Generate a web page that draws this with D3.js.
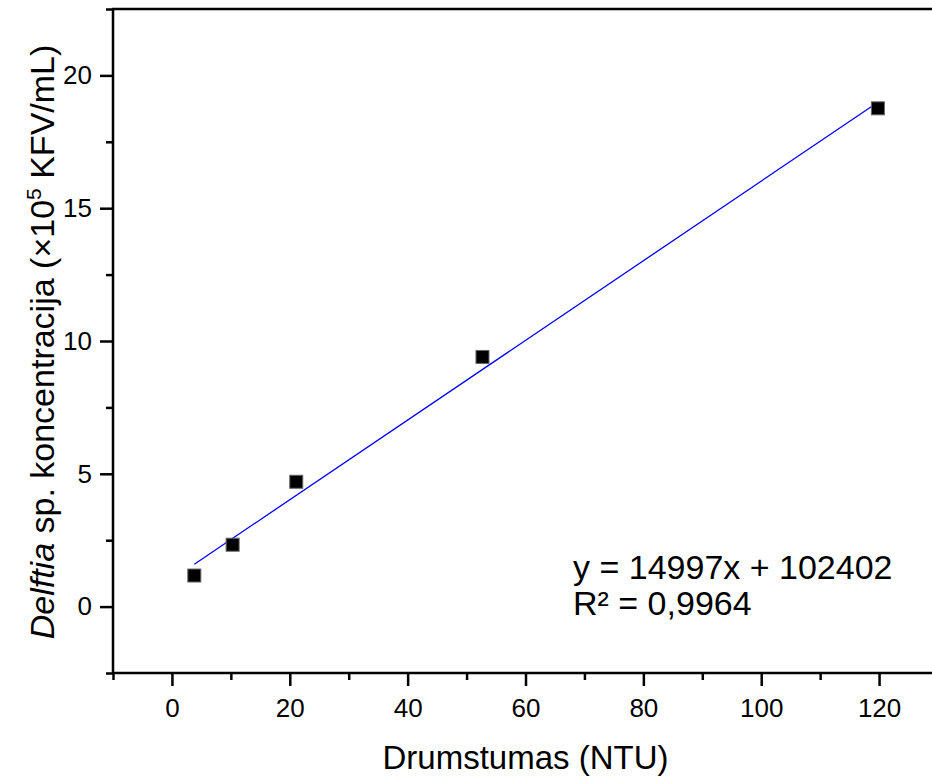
<!DOCTYPE html>
<html>
<head>
<meta charset="utf-8">
<script src="https://cdn.jsdelivr.net/npm/d3@7/dist/d3.min.js"></script>
<style>
  body { margin: 0; background: #fff; }
  svg { display: block; font-family: "Liberation Sans", Arial, sans-serif; }
</style>
</head>
<body>
<div id="chart"></div>
<script>
// Measured points: turbidity (NTU) vs Delftia concentration (x10^5 KFV/mL)
var ntu = [3.8, 10.3, 21.1, 52.7, 119.8];
var conc = [1.17, 2.33, 4.70, 9.40, 18.76];

// Linear fit as printed on the chart (in KFV/mL)
var fitSlope = 14997;
var fitIntercept = 102402;
var fitLabel = "y = 14997x + 102402";
var r2Label = "R\u00b2 = 0,9964";

var xMajor = [0, 20, 40, 60, 80, 100, 120];
var xMinor = [-10, 10, 30, 50, 70, 90, 110, 130];
var yMajor = [0, 5, 10, 15, 20];
var yMinor = [-2.5, 2.5, 7.5, 12.5, 17.5, 22.5];

var W = 932, H = 780;
// plot box (right edge runs off the canvas, as in the original crop)
var PL = 113, PR = 938, PT = 9, PB = 673;
var MAJOR = 13, MINOR = 7, AXIS_W = 2.5;
var FONT = "'Liberation Sans', Arial, sans-serif";

var svg = d3.select("#chart").append("svg")
	.attr("width", W)
	.attr("height", H);

var x = d3.scaleLinear().domain([-10, 130]).range([PL, PR]);
var y = d3.scaleLinear().domain([-2.5, 22.5]).range([PB, PT]);

// Fit line over the range of the data
var xs = d3.extent(ntu);
var fitY = function(v) { return (fitSlope * v + fitIntercept) / 1e5; };
svg.append("line")
	.attr("x1", x(xs[0])).attr("y1", y(fitY(xs[0])))
	.attr("x2", x(xs[1])).attr("y2", y(fitY(xs[1])))
	.attr("stroke", "#0000ff")
	.attr("stroke-width", 1.3);

// Square markers
var S = 13;
svg.selectAll("rect.pt")
	.data(d3.zip(ntu, conc))
	.enter()
	.append("rect")
	.attr("class", "pt")
	.attr("x", function(d) { return x(d[0]) - S / 2; })
	.attr("y", function(d) { return y(d[1]) - S / 2; })
	.attr("width", S)
	.attr("height", S)
	.attr("fill", "#000")
	.attr("stroke", "#666")
	.attr("stroke-width", 1);

// Axes
var styleAxis = function(g) {
	g.attr("font-size", 26).attr("font-family", FONT);
	g.selectAll("path.domain").remove();
	g.selectAll(".tick line").attr("stroke", "#000").attr("stroke-width", AXIS_W);
	g.selectAll(".tick text").attr("fill", "#000");
};

svg.append("g")
	.attr("transform", "translate(0," + PB + ")")
	.call(d3.axisBottom(x).tickValues(xMajor).tickSize(MAJOR).tickPadding(13).tickFormat(d3.format("d")))
	.call(styleAxis);
svg.append("g")
	.attr("transform", "translate(0," + PB + ")")
	.call(d3.axisBottom(x).tickValues(xMinor).tickSize(MINOR).tickFormat(""))
	.call(styleAxis);

svg.append("g")
	.attr("transform", "translate(" + PL + ",0)")
	.call(d3.axisLeft(y).tickValues(yMajor).tickSize(MAJOR).tickPadding(8).tickFormat(d3.format("d")))
	.call(styleAxis);
svg.append("g")
	.attr("transform", "translate(" + PL + ",0)")
	.call(d3.axisLeft(y).tickValues(yMinor).tickSize(MINOR).tickFormat(""))
	.call(styleAxis);

// Frame
svg.append("rect")
	.attr("x", PL).attr("y", PT)
	.attr("width", PR - PL).attr("height", PB - PT)
	.attr("fill", "none")
	.attr("stroke", "#000")
	.attr("stroke-width", AXIS_W);

// Axis titles
svg.append("text")
	.attr("x", (PL + PR) / 2)
	.attr("y", 769)
	.attr("text-anchor", "middle")
	.attr("font-size", 33)
	.text("Drumstumas (NTU)");

var yt = svg.append("text")
	.attr("transform", "translate(54,342) rotate(-90)")
	.attr("text-anchor", "middle")
	.attr("font-size", 34);
yt.append("tspan").attr("font-style", "italic").text("Delftia");
yt.append("tspan").text(" sp. koncentracija (\u00d710");
yt.append("tspan").attr("font-size", 21).attr("dy", -13).text("5");
yt.append("tspan").attr("dy", 13).text(" KFV/mL)");

// Fit annotation
svg.append("text")
	.attr("x", 573).attr("y", 579)
	.attr("font-size", 34)
	.text(fitLabel);
svg.append("text")
	.attr("x", 573).attr("y", 615)
	.attr("font-size", 34)
	.text(r2Label);
</script>
</body>
</html>
